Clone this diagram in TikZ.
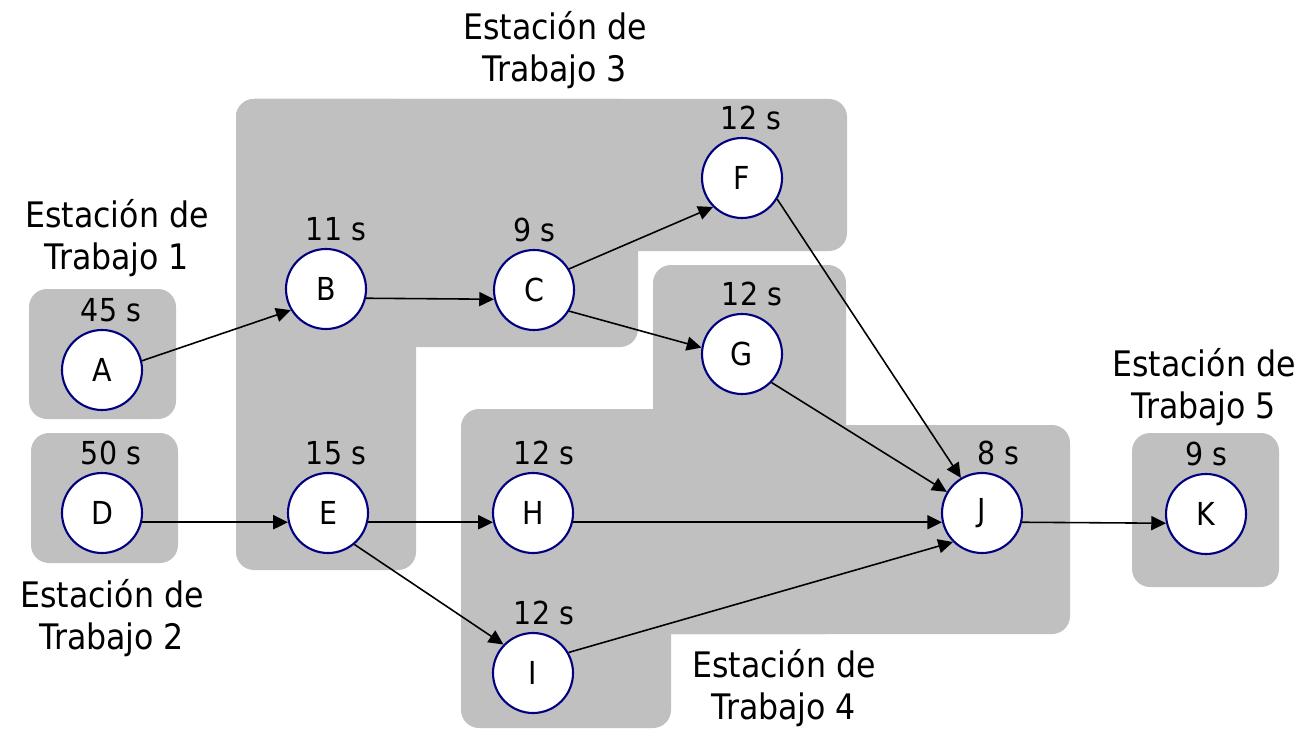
\documentclass[tikz,border=0pt]{standalone}
\usepackage{fontspec}
\setmainfont{DejaVu Sans Condensed}
\usetikzlibrary{arrows.meta,positioning}
\definecolor{stationgray}{RGB}{192,192,192}
\definecolor{tasknavy}{RGB}{0,0,128}
\tikzset{
    task/.style={circle, draw=tasknavy, line width=0.6pt, fill=white,
        minimum size=0.8cm, inner sep=0pt, font=\fontsize{9}{10}\selectfont},
    tasktime/.style={inner sep=0pt, font=\fontsize{9}{10}\selectfont},
    station/.style={fill=stationgray, rounded corners=0.18cm},
    stationtext/.style={align=center, font=\fontsize{10}{12}\selectfont},
    flow/.style={-{Triangle[length=4.2pt,width=4pt]}, line width=0.45pt}
}
% task: name, position, time, shift of the time
\newcommand{\task}[4]{
    \node[task] (#1) at (#2) {#1};
    \node[tasktime, above=0.06cm of #1, xshift=#4] (#1t) {#3};
}
\begin{document}
\begin{tikzpicture}
    \useasboundingbox (0,0) rectangle (13.09,7.30);

    % stations
    \fill[station] (0.29,3.11) rectangle (1.76,4.41);
    \fill[station] (0.31,1.67) rectangle (1.78,2.97);
    \fill[station] (2.36,6.31) rectangle (8.47,4.79);
    \fill[station] (2.36,6.31) rectangle (6.38,3.83);
    \fill[station] (2.36,6.31) rectangle (4.16,1.60);
    \fill[station] (4.61,3.21) rectangle (6.71,0.02);
    \fill[station] (6.53,4.65) rectangle (8.46,0.96);
    \fill[station] (4.61,3.05) rectangle (10.70,0.96);
    \fill[station] (11.32,2.97) rectangle (12.79,1.43);

    % tasks
    \task{A}{1.02,3.60}{45 s}{0.09cm}
    \task{D}{1.02,2.17}{50 s}{0.09cm}
    \task{B}{3.26,4.41}{11 s}{0.10cm}
    \task{C}{5.34,4.40}{9 s}{0cm}
    \task{F}{7.42,5.52}{12 s}{0.09cm}
    \task{G}{7.42,3.76}{12 s}{0.10cm}
    \task{E}{3.28,2.17}{15 s}{0.08cm}
    \task{H}{5.33,2.17}{12 s}{0.11cm}
    \task{I}{5.33,0.57}{12 s}{0.11cm}
    \task{J}{9.82,2.17}{8 s}{0.16cm}
    \task{K}{12.06,2.16}{9 s}{0cm}

    % precedence
    \draw[flow] (A.13) -- (B.211);
    \draw[flow] (B.-13) -- (C.193);
    \draw[flow] (C.31) -- (F.225);
    \draw[flow] (C.-31) -- (G.171);
    \draw[flow] (F.-31) -- (J.121);
    \draw[flow] (G.-44) -- (J.149);
    \draw[flow] (D.-13) -- (E.193);
    \draw[flow] (E.-13) -- (H.193);
    \draw[flow] (E.-50) -- (I.136);
    \draw[flow] (H.-13) -- (J.193);
    \draw[flow] (I.30) -- (J.225);
    \draw[flow] (J.-13) -- (K.193);

    % station names
    \node[stationtext] (s1) at (1.17,4.92) {Estación de\\Trabajo 1};
    \node[stationtext] (s2) at (1.12,1.12) {Estación de\\Trabajo 2};
    \node[stationtext] (s3) at (5.55,6.80) {Estación de\\Trabajo 3};
    \node[stationtext] (s4) at (7.84,0.42) {Estación de\\Trabajo 4};
    \node[stationtext] (s5) at (12.04,3.43) {Estación de\\Trabajo 5};
\end{tikzpicture}
\end{document}
